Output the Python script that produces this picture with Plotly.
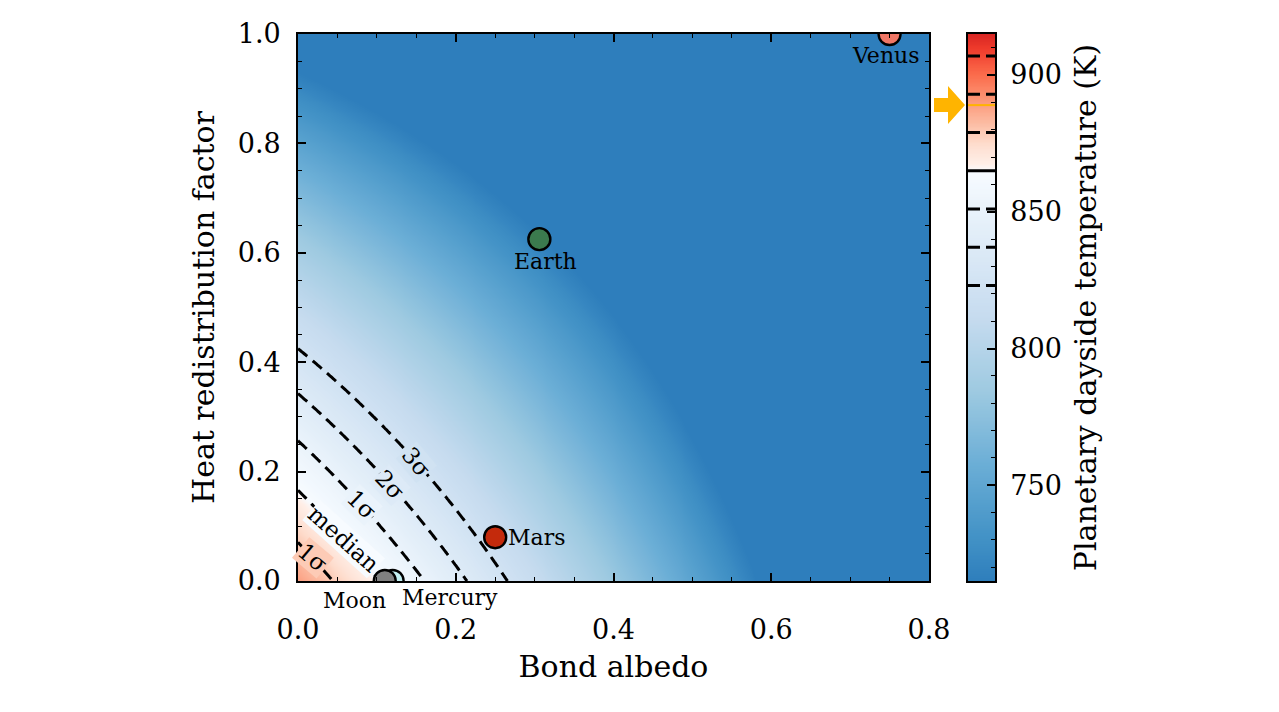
import numpy as np
import plotly.graph_objects as go

# ── Model / read-off values ────────────────────────────────────────
T_MAX = 889.0          # dayside temperature at A=0, f=0 (orange arrow)
T_MEDIAN = 865.0
T_SIGMA = 14.0
T_RANGE = [715.0, 915.0]

albedo_grid = np.linspace(0.0, 0.8, 161)
redist_grid = np.linspace(0.0, 1.0, 201)

planet_names = ["Venus", "Earth", "Mars", "Mercury", "Moon"]
planet_albedo = [0.75, 0.306, 0.25, 0.12, 0.11]
planet_redist = [1.0, 0.625, 0.08, 0.0, 0.0]
planet_colors = ["#f07766", "#3b7a4e", "#c42a0c", "#c4f0f2", "#808080"]

contour_names = ["3σ", "2σ", "1σ", "median", "1σ"]
contour_sigmas = [-3, -2, -1, 0, 1]

# ── Colours: Blues below the median, Reds above ───────────────────
_BLUES = ["#f7fbff", "#deebf7", "#c6dbef", "#9ecae1", "#6baed6", "#4292c6", "#2171b5"]
_REDS = ["#fff5f0", "#fee0d2", "#fcbba1", "#fc9272", "#fb6a4a", "#ef3b2c", "#cb181d"]
_CMAP_TOP = 0.70
FONT = "DejaVu Serif"

# page body has an 8px margin, so positions are shifted by 8px
X_DOM = [290 / 1279, 921 / 1279]
Y_DOM = [1 - 573 / 712, 1 - 26 / 712]
CB_DOM = [960 / 1279, 987 / 1279]


def _hex(c):
    return np.array([int(c[i:i + 2], 16) for i in (1, 3, 5)], dtype=float)


def _sample(stops, u):
    # stops evenly spaced on [0, 0.75] of the matplotlib map
    pos = np.linspace(0, 0.75, len(stops))
    rgb = [np.interp(u, pos, [_hex(s)[k] for s in stops]) for k in range(3)]
    return "rgb({:.0f},{:.0f},{:.0f})".format(*rgb)


def color_at(t):
    mid = (T_MEDIAN - T_RANGE[0]) / (T_RANGE[1] - T_RANGE[0])
    t = min(max(t, 0.0), 1.0)
    if t <= mid:
        return _sample(_BLUES, _CMAP_TOP * (1 - t / mid))
    return _sample(_REDS, _CMAP_TOP * (t - mid) / (1 - mid))


COLORSCALE = [[t, color_at(t)] for t in np.linspace(0, 1, 81)]


def temp(a, f):
    return T_MAX * ((1 - a) * (1 - 0.625 * f)) ** 0.25


A, F = np.meshgrid(albedo_grid, redist_grid)
T = temp(A, F)
levels = [T_MEDIAN + s * T_SIGMA for s in contour_sigmas]

fig = go.Figure()
fig.add_trace(go.Heatmap(x=albedo_grid, y=redist_grid, z=T, zmin=T_RANGE[0], zmax=T_RANGE[1],
                         colorscale=COLORSCALE, showscale=False, zsmooth="best", hoverinfo="skip"))
fig.add_trace(go.Contour(x=albedo_grid, y=redist_grid, z=T, showscale=False, hoverinfo="skip",
                         autocontour=False,
                         contours=dict(start=levels[0], end=levels[-1], size=T_SIGMA, coloring="none"),
                         line=dict(color="black", width=3, dash="12px,7px")))

# contour labels, breaking the line with the local background colour
lab_a = [0.150, 0.117, 0.081, 0.058, 0.019]
lab_angle = [50, 47, 44, 42, 40]
for name, s, a0, ang in zip(contour_names, contour_sigmas, lab_a, lab_angle):
    lev = T_MEDIAN + s * T_SIGMA
    f0 = (1 - (lev / T_MAX) ** 4 / (1 - a0)) / 0.625
    bg = color_at((lev - T_RANGE[0]) / (T_RANGE[1] - T_RANGE[0]))
    fig.add_annotation(x=a0, y=f0, xref="x", yref="y", text=name, showarrow=False,
                       textangle=ang, bgcolor=bg, borderpad=0,
                       font=dict(family=FONT, size=23, color="black"))

# planets (Moon drawn last so it sits on Mercury)
fig.add_trace(go.Scatter(x=planet_albedo, y=planet_redist, mode="markers", hoverinfo="text",
                         text=planet_names,
                         marker=dict(size=22, color=planet_colors, line=dict(color="black", width=2.4))))

label_shift = {"Venus": (-4, -21, "center"), "Earth": (6, -22, "center"),
               "Mars": (11, 0, "left"), "Mercury": (57, -16, "center"), "Moon": (-30, -19, "center")}
for name, a0, f0 in zip(planet_names, planet_albedo, planet_redist):
    dx, dy, anc = label_shift[name]
    fig.add_annotation(x=a0, y=f0, xref="x", yref="y", text=name, showarrow=False,
                       xanchor=anc, yanchor="middle", xshift=dx, yshift=dy,
                       font=dict(family=FONT, size=22, color="black"))

# ── Hand-built colour bar on a second pair of axes ─────────────────
cbar_vals = np.linspace(T_RANGE[0], T_RANGE[1], 401)
fig.add_trace(go.Heatmap(x=[0, 1], y=cbar_vals, z=np.column_stack([cbar_vals, cbar_vals]),
                         zmin=T_RANGE[0], zmax=T_RANGE[1], colorscale=COLORSCALE,
                         showscale=False, zsmooth="best", hoverinfo="skip",
                         xaxis="x2", yaxis="y2"))
for s in contour_sigmas + [2, 3]:
    lev = T_MEDIAN + s * T_SIGMA
    fig.add_trace(go.Scatter(x=[0, 1], y=[lev, lev], mode="lines", hoverinfo="skip",
                             xaxis="x2", yaxis="y2", showlegend=False,
                             line=dict(color="black", width=3,
                                       dash="solid" if s == 0 else "12px,6px")))
fig.add_trace(go.Scatter(x=[0, 1], y=[T_MAX, T_MAX], mode="lines", hoverinfo="skip",
                         xaxis="x2", yaxis="y2", showlegend=False,
                         line=dict(color="#ffb300", width=2)))

# orange arrow pointing at T_MAX (anchored in paper space so it is not clipped)
arrow_y = Y_DOM[0] + (T_MAX - T_RANGE[0]) / (T_RANGE[1] - T_RANGE[0]) * (Y_DOM[1] - Y_DOM[0])
fig.add_shape(type="path", xref="paper", yref="paper", xsizemode="pixel", ysizemode="pixel",
              xanchor=CB_DOM[0], yanchor=arrow_y,
              path="M-34,-7 L-20,-7 L-20,-19 L-3,0 L-20,19 L-20,7 L-34,7 Z",
              fillcolor="#ffb400", line=dict(width=0), layer="above")

axis_common = dict(ticks="inside", ticklen=8, tickwidth=1.5, tickcolor="black", showline=True,
                   linecolor="black", linewidth=1.8, mirror="allticks", showgrid=False,
                   zeroline=False, automargin=False,
                   tickfont=dict(family=FONT, size=27, color="black"),
                   minor=dict(ticks="inside", ticklen=4, tickwidth=1.2, tickcolor="black",
                              dtick=0.05))

fig.update_layout(
    width=1279, height=712,
    paper_bgcolor="white", plot_bgcolor="white",
    margin=dict(l=0, r=0, t=0, b=0),
    showlegend=False,
    xaxis=dict(**axis_common, domain=X_DOM, range=[0, 0.8], dtick=0.2,
               tick0=0, tickformat=".1f", ticklabelstandoff=24,
               title=dict(text="Bond albedo", font=dict(family=FONT, size=30, color="black"),
                          standoff=12)),
    yaxis=dict(**axis_common, domain=Y_DOM, range=[0, 1], dtick=0.2,
               tick0=0, tickformat=".1f", ticklabelstandoff=10,
               title=dict(text="Heat redistribution factor",
                          font=dict(family=FONT, size=30, color="black"), standoff=14)),
    xaxis2=dict(domain=CB_DOM, range=[0, 1], anchor="y2", showline=True, automargin=False,
                linecolor="black", linewidth=1.8, mirror=True, showticklabels=False,
                ticks="", showgrid=False, zeroline=False),
    yaxis2=dict(domain=Y_DOM, range=T_RANGE, anchor="x2", side="right", automargin=False,
                ticks="inside", ticklen=8, tickwidth=1.5, tickcolor="black", showline=True,
                linecolor="black", linewidth=1.8, mirror=True, showgrid=False, zeroline=False,
                tickvals=[750, 800, 850, 900], ticklabelstandoff=8,
                tickfont=dict(family=FONT, size=27, color="black"),
                minor=dict(ticks="inside", ticklen=4, tickwidth=1.2, tickcolor="black", dtick=10),
                title=dict(text="Planetary dayside temperature (K)",
                           font=dict(family=FONT, size=30, color="black"), standoff=14)),
)

fig.write_html("out.html")
